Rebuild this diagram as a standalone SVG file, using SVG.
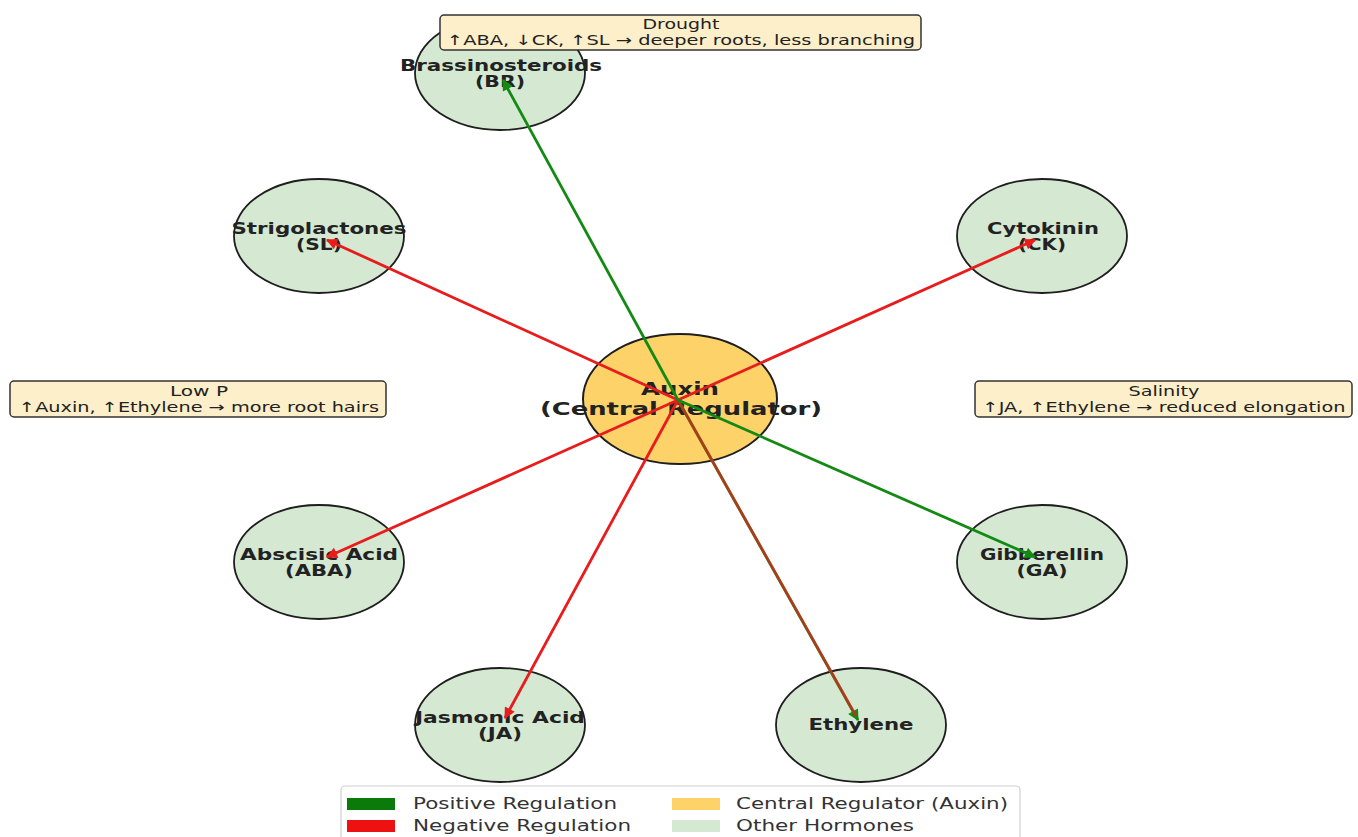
<svg xmlns="http://www.w3.org/2000/svg" width="1358" height="837" viewBox="0 0 1358 837">
<defs>
<style>
.node{fill:#d5e8d2;stroke:#1e1e1e;stroke-width:1.8}
.center{fill:#fdd269;stroke:#1e1e1e;stroke-width:2}
.lbl{font-family:"DejaVu Sans",sans-serif;font-weight:bold;font-size:15px;fill:#222;text-anchor:middle}
.big{font-size:17px}
.note{fill:#fcefc9;stroke:#333;stroke-width:1.5}
.nt{font-family:"DejaVu Sans",sans-serif;font-size:14px;fill:#222;text-anchor:middle}
.lg{font-family:"DejaVu Sans",sans-serif;font-size:15px;fill:#333}
.pos{stroke:#138a13;stroke-width:2.8;fill:none}
.neg{stroke:#e81c1c;stroke-width:2.8;fill:none}
</style>
<marker id="ag" viewBox="0 0 10 10" refX="9" refY="5" markerWidth="5" markerHeight="4" orient="auto" markerUnits="strokeWidth"><path d="M0,0L10,5L0,10z" fill="#138a13"/></marker>
<marker id="ar" viewBox="0 0 10 10" refX="9" refY="5" markerWidth="5" markerHeight="4" orient="auto" markerUnits="strokeWidth"><path d="M0,0L10,5L0,10z" fill="#e81c1c"/></marker>
</defs>
<rect width="1358" height="837" fill="#fff"/>
<g id="auxin"><ellipse class="center" cx="680" cy="399" rx="97" ry="65"/>
<text class="lbl big" x="680" y="395" textLength="78" lengthAdjust="spacingAndGlyphs">Auxin</text>
<text class="lbl big" x="681" y="415" textLength="282" lengthAdjust="spacingAndGlyphs">(Central Regulator)</text></g>
<g id="br"><ellipse class="node" cx="500" cy="73" rx="85" ry="57"/>
<text class="lbl" x="501" y="71" textLength="202" lengthAdjust="spacingAndGlyphs">Brassinosteroids</text>
<text class="lbl" x="500" y="87" textLength="50" lengthAdjust="spacingAndGlyphs">(BR)</text></g>
<g id="sl"><ellipse class="node" cx="319" cy="236" rx="85" ry="57"/>
<text class="lbl" x="319" y="234" textLength="175" lengthAdjust="spacingAndGlyphs">Strigolactones</text>
<text class="lbl" x="319" y="250" textLength="46" lengthAdjust="spacingAndGlyphs">(SL)</text></g>
<g id="ck"><ellipse class="node" cx="1042" cy="236" rx="85" ry="57"/>
<text class="lbl" x="1043" y="234" textLength="112" lengthAdjust="spacingAndGlyphs">Cytokinin</text>
<text class="lbl" x="1042" y="250" textLength="48" lengthAdjust="spacingAndGlyphs">(CK)</text></g>
<g id="aba"><ellipse class="node" cx="319" cy="562" rx="85" ry="57"/>
<text class="lbl" x="319" y="560" textLength="158" lengthAdjust="spacingAndGlyphs">Abscisic Acid</text>
<text class="lbl" x="319" y="576" textLength="68" lengthAdjust="spacingAndGlyphs">(ABA)</text></g>
<g id="ga"><ellipse class="node" cx="1042" cy="562" rx="85" ry="57"/>
<text class="lbl" x="1042" y="560" textLength="124" lengthAdjust="spacingAndGlyphs">Gibberellin</text>
<text class="lbl" x="1042" y="576" textLength="51" lengthAdjust="spacingAndGlyphs">(GA)</text></g>
<g id="ja"><ellipse class="node" cx="500" cy="725" rx="85" ry="57"/>
<text class="lbl" x="500" y="723" textLength="170" lengthAdjust="spacingAndGlyphs">Jasmonic Acid</text>
<text class="lbl" x="500" y="739" textLength="44" lengthAdjust="spacingAndGlyphs">(JA)</text></g>
<g id="eth"><ellipse class="node" cx="861" cy="725" rx="85" ry="57"/>
<text class="lbl" x="861" y="730" textLength="105" lengthAdjust="spacingAndGlyphs">Ethylene</text></g>
<g id="connectors">
<line class="neg" x1="678" y1="400" x2="327" y2="240" marker-end="url(#ar)"/>
<line class="neg" x1="678" y1="400" x2="1035" y2="240" marker-end="url(#ar)"/>
<line class="neg" x1="678" y1="400" x2="327" y2="557" marker-end="url(#ar)"/>
<line class="neg" x1="678" y1="400" x2="505" y2="718" marker-end="url(#ar)"/>
<line class="pos" x1="678" y1="400" x2="858" y2="720" marker-end="url(#ag)"/>
<line class="neg" x1="678" y1="400" x2="856" y2="716" stroke-opacity="0.7"/>
<line class="pos" x1="678" y1="400" x2="503" y2="80" marker-end="url(#ag)"/>
<line class="pos" x1="678" y1="400" x2="1035" y2="557" marker-end="url(#ag)"/>
</g>
<g id="drought"><rect class="note" x="440" y="15" width="481" height="35" rx="4"/>
<text class="nt" x="681" y="29" textLength="77" lengthAdjust="spacingAndGlyphs">Drought</text>
<text class="nt" x="681" y="45" textLength="468" lengthAdjust="spacingAndGlyphs">↑ABA, ↓CK, ↑SL → deeper roots, less branching</text></g>
<g id="lowp"><rect class="note" x="10" y="381" width="376" height="36" rx="4"/>
<text class="nt" x="199" y="396" textLength="58" lengthAdjust="spacingAndGlyphs">Low P</text>
<text class="nt" x="199" y="412" textLength="360" lengthAdjust="spacingAndGlyphs">↑Auxin, ↑Ethylene → more root hairs</text></g>
<g id="salinity"><rect class="note" x="975" y="381" width="377" height="36" rx="4"/>
<text class="nt" x="1164" y="396" textLength="71" lengthAdjust="spacingAndGlyphs">Salinity</text>
<text class="nt" x="1164" y="412" textLength="363" lengthAdjust="spacingAndGlyphs">↑JA, ↑Ethylene → reduced elongation</text></g>
<g id="legend"><rect x="341" y="786" width="679" height="60" rx="4" fill="#fff" stroke="#d0d0d0" stroke-width="1.2"/>
<rect x="347" y="798" width="48" height="12" fill="#0a7a0a"/>
<rect x="347" y="820" width="48" height="12" fill="#ee1111"/>
<rect x="672" y="798" width="48" height="12" fill="#fdd269"/>
<rect x="672" y="820" width="48" height="12" fill="#d5e8d2"/>
<text class="lg" x="413" y="809" textLength="204" lengthAdjust="spacingAndGlyphs">Positive Regulation</text>
<text class="lg" x="413" y="831" textLength="218" lengthAdjust="spacingAndGlyphs">Negative Regulation</text>
<text class="lg" x="736" y="809" textLength="272" lengthAdjust="spacingAndGlyphs">Central Regulator (Auxin)</text>
<text class="lg" x="736" y="831" textLength="178" lengthAdjust="spacingAndGlyphs">Other Hormones</text></g>
</svg>
